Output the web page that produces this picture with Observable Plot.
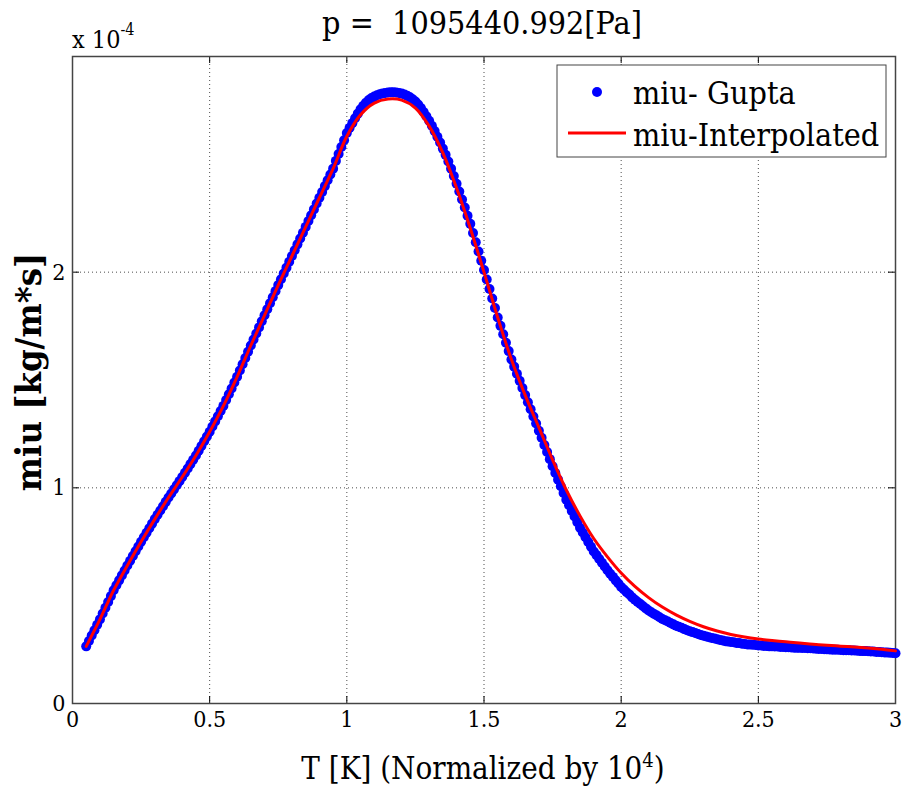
<!DOCTYPE html>
<html><head><meta charset="utf-8">
<script src="https://cdn.jsdelivr.net/npm/d3@7"></script>
<script src="https://cdn.jsdelivr.net/npm/@observablehq/plot@0.6"></script>
<style>
body{margin:0;background:#fff;}
#wrap{position:relative;width:906px;height:792px;}
#wrap svg text{font-family:"DejaVu Serif",serif;font-stretch:condensed;}
#overlay{position:absolute;left:0;top:0;pointer-events:none;}
#overlay text{white-space:pre;}
</style></head><body><div id="wrap"></div>
<script>
// Values of miu are in units of 1e-4 kg/(m*s), as shown on the axis (x 10^-4)
const guptaT = [
0.05,0.06,0.07,0.08,0.09,0.10,0.11,0.12,0.13,0.14,
0.15,0.16,0.17,0.18,0.19,0.20,0.21,0.22,0.23,0.24,
0.25,0.26,0.27,0.28,0.29,0.30,0.31,0.32,0.33,0.34,
0.35,0.36,0.37,0.38,0.39,0.40,0.41,0.42,0.43,0.44,
0.45,0.46,0.47,0.48,0.49,0.50,0.51,0.52,0.53,0.54,
0.55,0.56,0.57,0.58,0.59,0.60,0.61,0.62,0.63,0.64,
0.65,0.66,0.67,0.68,0.69,0.70,0.71,0.72,0.73,0.74,
0.75,0.76,0.77,0.78,0.79,0.80,0.81,0.82,0.83,0.84,
0.85,0.86,0.87,0.88,0.89,0.90,0.91,0.92,0.93,0.94,
0.95,0.96,0.97,0.98,0.99,1.00,1.01,1.02,1.03,1.04,
1.05,1.06,1.07,1.08,1.09,1.10,1.11,1.12,1.13,1.14,
1.15,1.16,1.17,1.18,1.19,1.20,1.21,1.22,1.23,1.24,
1.25,1.26,1.27,1.28,1.29,1.30,1.31,1.32,1.33,1.34,
1.35,1.36,1.37,1.38,1.39,1.40,1.41,1.42,1.43,1.44,
1.45,1.46,1.47,1.48,1.49,1.50,1.51,1.52,1.53,1.54,
1.55,1.56,1.57,1.58,1.59,1.60,1.61,1.62,1.63,1.64,
1.65,1.66,1.67,1.68,1.69,1.70,1.71,1.72,1.73,1.74,
1.75,1.76,1.77,1.78,1.79,1.80,1.81,1.82,1.83,1.84,
1.85,1.86,1.87,1.88,1.89,1.90,1.91,1.92,1.93,1.94,
1.95,1.96,1.97,1.98,1.99,2.00,2.01,2.02,2.03,2.04,
2.05,2.06,2.07,2.08,2.09,2.10,2.11,2.12,2.13,2.14,
2.15,2.16,2.17,2.18,2.19,2.20,2.21,2.22,2.23,2.24,
2.25,2.26,2.27,2.28,2.29,2.30,2.31,2.32,2.33,2.34,
2.35,2.36,2.37,2.38,2.39,2.40,2.41,2.42,2.43,2.44,
2.45,2.46,2.47,2.48,2.49,2.50,2.51,2.52,2.53,2.54,
2.55,2.56,2.57,2.58,2.59,2.60,2.61,2.62,2.63,2.64,
2.65,2.66,2.67,2.68,2.69,2.70,2.71,2.72,2.73,2.74,
2.75,2.76,2.77,2.78,2.79,2.80,2.81,2.82,2.83,2.84,
2.85,2.86,2.87,2.88,2.89,2.90,2.91,2.92,2.93,2.94,
2.95,2.96,2.97,2.98,2.99,3.00];
const guptaMiu = [
0.265,0.29,0.315,0.34,0.365,0.39,0.417,0.444,0.471,0.498,
0.525,0.548,0.571,0.594,0.617,0.64,0.662,0.684,0.706,0.728,
0.75,0.771,0.792,0.813,0.834,0.855,0.875,0.895,0.915,0.935,
0.955,0.974,0.993,1.012,1.031,1.05,1.07,1.09,1.11,1.13,
1.15,1.172,1.194,1.216,1.238,1.26,1.284,1.308,1.332,1.356,
1.38,1.407,1.434,1.461,1.488,1.515,1.544,1.573,1.602,1.631,
1.66,1.688,1.716,1.744,1.772,1.80,1.828,1.856,1.884,1.912,
1.94,1.967,1.994,2.021,2.048,2.075,2.102,2.129,2.156,2.183,
2.21,2.237,2.264,2.291,2.318,2.345,2.372,2.399,2.426,2.453,
2.48,2.516,2.548,2.58,2.612,2.645,2.669,2.691,2.714,2.735,
2.755,2.772,2.786,2.798,2.807,2.814,2.82,2.825,2.829,2.831,
2.833,2.834,2.834,2.833,2.831,2.828,2.824,2.818,2.811,2.802,
2.791,2.777,2.761,2.743,2.723,2.702,2.679,2.654,2.628,2.601,
2.573,2.544,2.513,2.48,2.446,2.41,2.374,2.337,2.30,2.262,
2.224,2.182,2.139,2.096,2.053,2.01,1.966,1.922,1.878,1.834,
1.79,1.751,1.712,1.673,1.634,1.595,1.562,1.529,1.496,1.463,
1.43,1.397,1.364,1.331,1.298,1.265,1.232,1.199,1.166,1.133,
1.10,1.069,1.038,1.007,0.976,0.945,0.919,0.893,0.867,0.841,
0.815,0.793,0.771,0.749,0.727,0.705,0.688,0.67,0.653,0.635,
0.618,0.602,0.587,0.571,0.556,0.54,0.529,0.516,0.505,0.492,
0.481,0.471,0.461,0.451,0.441,0.431,0.423,0.415,0.408,0.40,
0.392,0.386,0.38,0.373,0.367,0.361,0.356,0.351,0.345,0.34,
0.335,0.331,0.327,0.322,0.318,0.314,0.311,0.307,0.304,0.301,
0.298,0.295,0.292,0.289,0.287,0.285,0.284,0.281,0.28,0.277,
0.276,0.274,0.273,0.272,0.271,0.269,0.269,0.267,0.267,0.265,
0.265,0.264,0.264,0.262,0.262,0.261,0.261,0.26,0.259,0.258,
0.258,0.257,0.257,0.256,0.256,0.255,0.254,0.253,0.253,0.252,
0.251,0.25,0.249,0.249,0.249,0.248,0.247,0.247,0.247,0.246,
0.246,0.245,0.244,0.243,0.243,0.242,0.241,0.241,0.239,0.239,
0.238,0.237,0.236,0.235,0.234,0.233];
const interpT = [0.05,0.10,0.15,0.20,0.25,0.30,0.35,0.40,0.45,0.50,
0.55,0.60,0.65,0.70,0.75,0.80,0.85,0.90,0.95,1.00,
1.05,1.10,1.15,1.20,1.25,1.30,1.35,1.40,1.45,1.50,
1.55,1.60,1.65,1.70,1.75,1.80,1.85,1.90,1.95,2.00,
2.05,2.10,2.15,2.20,2.25,2.30,2.35,2.40,2.45,2.50,
2.55,2.60,2.65,2.70,2.75,2.80,2.85,2.90,2.95,3.00];
const interpMiu = [0.265,0.39,0.525,0.64,0.75,0.855,0.955,1.05,1.15,1.26,
1.38,1.515,1.66,1.80,1.94,2.075,2.21,2.345,2.48,2.63,
2.73,2.784,2.803,2.798,2.761,2.677,2.553,2.39,2.204,2.00,
1.79,1.595,1.43,1.28,1.13,0.99,0.87,0.765,0.68,0.605,
0.543,0.491,0.447,0.411,0.381,0.356,0.336,0.32,0.308,0.299,
0.292,0.286,0.28,0.275,0.27,0.266,0.262,0.257,0.251,0.244];
const xTicks = [0, 0.5, 1, 1.5, 2, 2.5, 3];
const yTicks = [0, 1, 2];
const seriesNames = ["miu- Gupta", "miu-Interpolated"];
const titleText = "p =  1095440.992[Pa]";

const gupta = guptaT.map((t, i) => ({T: t, miu: guptaMiu[i]}));
const interp = interpT.map((t, i) => ({T: t, miu: interpMiu[i]}));

const W = 906, H = 792, mL = 72, mR = 11, mT = 56, mB = 89;
const plotW = W - mL - mR, plotH = H - mT - mB, tickLen = 7;

const chart = Plot.plot({
  width: W, height: H,
  marginLeft: mL, marginRight: mR, marginTop: mT, marginBottom: mB,
  style: {fontFamily: "DejaVu Serif", fontSize: "23px", background: "#fff", color: "#000"},
  x: {domain: [0, 3]},
  y: {domain: [0, 3]},
  marks: [
    Plot.gridX(xTicks.slice(1, -1), {stroke: "#000", strokeOpacity: 0.7, strokeDasharray: "1,3"}),
    Plot.gridY(yTicks.slice(1), {stroke: "#000", strokeOpacity: 0.7, strokeDasharray: "1,3"}),
    Plot.tickX(xTicks, {x: d => d, insetTop: plotH - tickLen, stroke: "#000"}),
    Plot.tickX(xTicks, {x: d => d, insetBottom: plotH - tickLen, stroke: "#000"}),
    Plot.tickY(yTicks, {y: d => d, insetRight: plotW - tickLen, stroke: "#000"}),
    Plot.tickY(yTicks, {y: d => d, insetLeft: plotW - tickLen, stroke: "#000"}),
    Plot.axisX(xTicks, {tickSize: 0, tickPadding: 7, label: null, tickFormat: d => String(d)}),
    Plot.axisY(yTicks, {tickSize: 0, tickPadding: 7, label: null, tickFormat: d => String(d)}),
    Plot.frame({stroke: "#444", strokeWidth: 1.5}),
    Plot.dot(gupta, {x: "T", y: "miu", r: 5, fill: "#0000ff", stroke: "none"}),
    Plot.line(interp, {x: "T", y: "miu", stroke: "#ff0000", strokeWidth: 3, curve: "catmull-rom"})
  ]
});
const wrap = document.getElementById("wrap");
wrap.appendChild(chart);

const ov = d3.select(wrap).append("svg").attr("id", "overlay").attr("width", W).attr("height", H);
// title
ov.append("text").attr("x", 482).attr("y", 34).attr("text-anchor", "middle")
  .attr("font-size", 32).text(titleText);
// exponent
const ex = ov.append("text").attr("x", 72).attr("y", 48).attr("font-size", 25);
ex.append("tspan").text("x 10");
ex.append("tspan").attr("dy", -13).attr("font-size", 16).text("-4");
// x label
const xl = ov.append("text").attr("x", 483).attr("y", 779).attr("text-anchor", "middle")
  .attr("font-size", 31);
xl.append("tspan").text("T [K] (Normalized by 10");
xl.append("tspan").attr("dy", -12).attr("font-size", 20).text("4");
xl.append("tspan").attr("dy", 12).text(")");
// y label
ov.append("text").attr("transform", "translate(41,372) rotate(-90)").attr("text-anchor", "middle")
  .attr("font-size", 36).attr("font-weight", "bold").text("miu [kg/m*s]");
// legend
const lg = ov.append("g").attr("transform", "translate(557,65)");
lg.append("rect").attr("width", 329).attr("height", 92).attr("fill", "#fff").attr("stroke", "#444").attr("stroke-width", 1);
lg.append("circle").attr("cx", 40).attr("cy", 27).attr("r", 5).attr("fill", "#0000ff");
lg.append("line").attr("x1", 11).attr("x2", 69).attr("y1", 68).attr("y2", 68).attr("stroke", "#ff0000").attr("stroke-width", 3);
lg.append("text").attr("x", 76).attr("y", 39).attr("font-size", 32).text(seriesNames[0]);
lg.append("text").attr("x", 76).attr("y", 81).attr("font-size", 32).text(seriesNames[1]);
</script></body></html>
